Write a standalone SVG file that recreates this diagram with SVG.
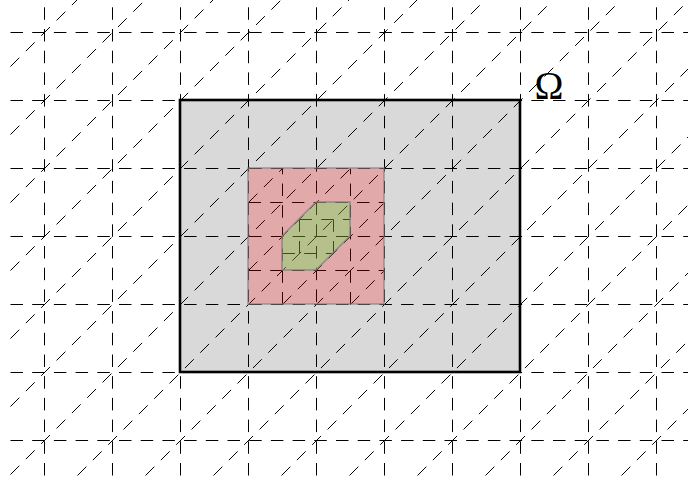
<svg xmlns="http://www.w3.org/2000/svg" width="688" height="481" viewBox="0 0 688 481">
<style>
.ln{fill:none;stroke:#000;stroke-width:1;stroke-dasharray:12.5 9.2}
.dom{fill:#d9d9d9}
.frame{fill:none;stroke:#000;stroke-width:2.6}
.ref{fill:#ff0000;fill-opacity:0.22;stroke:#808080;stroke-opacity:0.7;stroke-width:1.6}
.patch{fill:#52f648;fill-opacity:0.3;stroke:#808080;stroke-opacity:0.8;stroke-width:1.6}
.lbl{font-family:"Liberation Serif","DejaVu Serif",serif;font-size:39px;fill:#000}
</style>
<rect width="688" height="481" fill="#fff"/>
<g id="domain-fill"><rect class="dom" x="180" y="100" width="340" height="272"/></g>
<g id="mesh" transform="translate(0.5,0.5)">
<path class="ln" d="M44 475V-2M112 475V-2M180 475V-2M248 475V-2M316 475V-2M384 475V-2M452 475V-2M520 475V-2M588 475V-2M656 475V-2"/>
<path class="ln" d="M10 32H690M10 100H690M10 168H690M10 236H690M10 304H690M10 372H690M10 440H690"/>
<path class="ln" d="M10 66L78 -2M10 134L146 -2M10 202L214 -2M10 270L282 -2M10 338L350 -2M10 406L418 -2M10 474L486 -2M77 475L554 -2M145 475L622 -2M213 475L690 -2M281 475L690 66M349 475L690 134M417 475L690 202M485 475L690 270M553 475L690 338M621 475L690 406"/>
<path class="ln" d="M282 304V168M350 304V168M248 202H384M248 270H384M248 202L282 168M248 270L350 168M282 304L384 202M350 304L384 270"/>
<path class="ln" d="M299 253V219M333 253V219M299 219H350M282 253H333"/>
</g>
<g id="refined"><rect class="ref" x="248" y="168" width="136" height="136"/></g>
<g id="patch"><polygon class="patch" points="282,236 316,202 350,202 350,236 316,270 282,270"/></g>
<g id="domain"><rect class="frame" x="180" y="100" width="340" height="272"/></g>
<g id="label"><text class="lbl" x="549" y="99" text-anchor="middle">Ω</text></g>
</svg>
